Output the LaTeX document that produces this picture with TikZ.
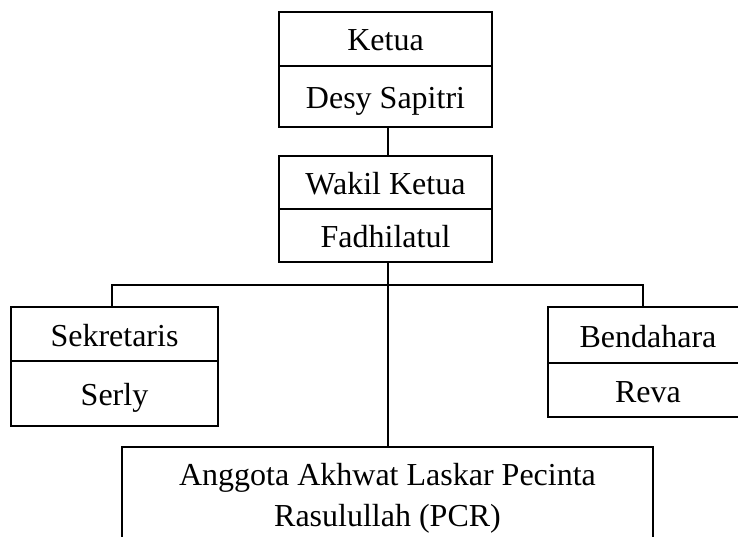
\documentclass[tikz,border=0pt]{standalone}
\usepackage{fontspec}
\setmainfont{Liberation Serif}
\begin{document}
\begin{tikzpicture}[x=1pt,y=-1pt,
  lw/.style={line width=1.2pt},
  cell/.style={draw, lw, rectangle, inner sep=0pt, font=\fontsize{32}{40}\selectfont, text height=32pt, text depth=8pt},
  plain/.style={inner sep=0pt, font=\fontsize{32}{40}\selectfont, anchor=base}]
\useasboundingbox (0,0) rectangle (738,537);
% Ketua
\node[cell, minimum width=213pt, minimum height=54pt] (kt) at (385.5,39) {Ketua};
\node[cell, minimum width=213pt, minimum height=61pt] (kb) at (385.5,96.5) {Desy Sapitri};
% Wakil
\node[cell, minimum width=213pt, minimum height=53pt] (wt) at (385.5,182.5) {Wakil Ketua};
\node[cell, minimum width=213pt, minimum height=53pt] (wb) at (385.5,235.5) {Fadhilatul};
% Sekretaris
\node[cell, minimum width=207pt, minimum height=54pt] (st) at (114.5,334) {Sekretaris};
\node[cell, minimum width=207pt, minimum height=65pt] (sb) at (114.5,393.5) {Serly};
% Bendahara
\node[cell, minimum width=200pt, minimum height=56pt] (bt) at (648,335) {Bendahara};
\node[cell, minimum width=200pt, minimum height=54pt] (bb) at (648,390) {Reva};
% Anggota
\node[draw, lw, rectangle, inner sep=0pt, minimum width=531pt, minimum height=113pt] (ang) at (387.5,503.5) {};
\node[plain] (ang1) at (387.5,485) {Anggota Akhwat Laskar Pecinta};
\node[plain] (ang2) at (387.5,526) {Rasulullah (PCR)};
% connectors
\coordinate (hub) at (388,285);
\coordinate (hl) at (112,285);
\coordinate (hr) at (643,285);
\draw[lw] (kb.south -| hub) -- (wt.north -| hub);
\draw[lw] (wb.south -| hub) -- (ang.north -| hub);
\draw[lw] (st.north -| hl) -- (hl) -- (hr) -- (bt.north -| hr);
\end{tikzpicture}
\end{document}
